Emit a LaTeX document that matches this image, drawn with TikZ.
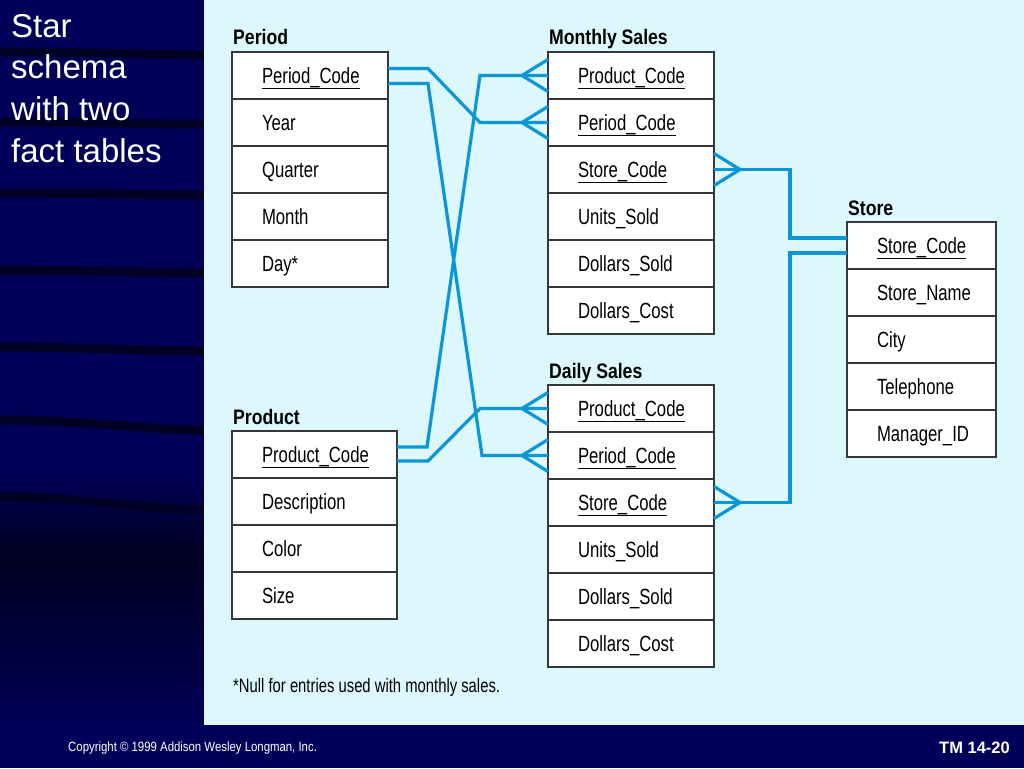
\documentclass[tikz,border=0pt]{standalone}
\usepackage{fontspec}
\setmainfont{Liberation Sans}
\newfontfamily\cellfont[FakeStretch=0.76]{Liberation Sans}
\newfontfamily\ttlfont[FakeStretch=0.84]{Liberation Sans}
\newfontfamily\footfont[FakeStretch=0.85]{Liberation Sans}
\definecolor{navy}{RGB}{0,0,88}
\definecolor{darknavy}{RGB}{0,0,32}
\definecolor{stripec}{RGB}{0,0,36}
\definecolor{panel}{RGB}{220,248,252}
\definecolor{conncol}{RGB}{10,150,215}
\definecolor{border}{RGB}{55,55,55}
\newcommand\pk[1]{\setbox0\hbox{#1}\rlap{\rule[-6pt]{\wd0}{1.4pt}}\box0}
\tikzset{
  cell/.style={draw=border, line width=1.6pt, fill=white, anchor=north west,
    inner sep=0pt, outer sep=0pt, minimum height=47pt, align=left,
    font=\cellfont\fontsize{22}{26}\selectfont, text height=20pt, text depth=4.2pt},
  outerb/.style={draw=border, line width=2.2pt},
  ttl/.style={anchor=base west, inner sep=0pt, font=\ttlfont\bfseries\fontsize{21}{25}\selectfont},
  conn/.style={draw=conncol, line width=3.2pt},
  stripe/.style={draw=stripec, line width=9pt}
}
\newcommand\erdtable[7]{%
  \node[ttl] (#1t) at (#2+1, #3-7) {#5};
  \foreach \t [count=\i] in {#6}
    \node[cell, text width=#4pt] (#1\i) at (#2, {#3+47*(\i-1)}) {\hspace*{30pt}\t};
  \draw[outerb] (#2,#3) rectangle ++(#4, 47*#7);
}
\newcommand\crowL[1]{\draw[conn] ([yshift=16pt]#1.west) -- ([xshift=-26pt]#1.west) -- ([yshift=-16pt]#1.west);}
\newcommand\crowR[1]{\draw[conn] ([yshift=16pt]#1.east) -- ([xshift=26pt]#1.east) -- ([yshift=-16pt]#1.east);}
\begin{document}
\begin{tikzpicture}[x=1pt, y=-1pt]
\useasboundingbox (0,0) rectangle (1024,768);
% background
\fill[navy] (0,0) rectangle (1024,768);
\shade[top color=navy, bottom color=darknavy] (0,470) rectangle (204,560);
\shade[top color=darknavy, bottom color=navy] (0,560) rectangle (204,725);
\foreach \ya/\yb in {52/55, 122/124, 193/195, 270/273, 347/351, 420/430, 497/510}
  \draw[stripe] (0,\ya) .. controls (80,\ya) and (150,\yb) .. (204,\yb);
\fill[panel] (204,0) rectangle (1024,725);
% title
\node[anchor=north west, inner sep=0pt, align=left, text=white,
  font=\fontsize{33}{41.7}\selectfont] (title) at (11,14) {Star\\schema\\with two\\fact tables};
% tables
\erdtable{per}{232}{52}{156}{Period}{\pk{Period\_Code},Year,Quarter,Month,Day*}{5}
\erdtable{pr}{232}{431}{165}{Product}{\pk{Product\_Code},Description,Color,Size}{4}
\erdtable{ms}{548}{52}{166}{Monthly Sales}{\pk{Product\_Code},\pk{Period\_Code},\pk{Store\_Code},Units\_Sold,Dollars\_Sold,Dollars\_Cost}{6}
\erdtable{ds}{548}{385}{166}{Daily Sales}{\pk{Product\_Code},\pk{Period\_Code},\pk{Store\_Code},Units\_Sold,Dollars\_Sold,Dollars\_Cost}{6}
\erdtable{st}{847}{222}{149}{Store}{\pk{Store\_Code},Store\_Name,City,Telephone,Manager\_ID}{5}
% connectors
\draw[conn] ([yshift=7pt]per1.east) -- ++(40pt,0pt) -- ([xshift=-68pt]ms2.west) -- (ms2.west);
\draw[conn] ([yshift=-8pt]per1.east) -- ++(40pt,0pt) -- ([xshift=-66pt]ds2.west) -- (ds2.west);
\draw[conn] ([yshift=7.5pt]pr1.east) -- ++(30pt,0pt) -- ([xshift=-68pt]ms1.west) -- (ms1.west);
\draw[conn] ([yshift=-6.5pt]pr1.east) -- ++(31pt,0pt) -- ([xshift=-68pt]ds1.west) -- (ds1.west);
\draw[conn] (ms3.east) -- ++(76pt,0pt) |- ([yshift=7.5pt]st1.west);
\draw[conn] (ds3.east) -- ++(76pt,0pt) |- ([yshift=-7.5pt]st1.west);
\crowL{ms1} \crowL{ms2} \crowL{ds1} \crowL{ds2}
\crowR{ms3} \crowR{ds3}
% footnote
\node[anchor=west, inner sep=0pt, font=\cellfont\fontsize{19.5}{23}\selectfont] (note) at (233,687) {*Null for entries used with monthly sales.};
% footer
\node[anchor=west, inner sep=0pt, text=white, font=\footfont\fontsize{13.4}{16}\selectfont] (copy) at (68,748) {Copyright © 1999 Addison Wesley Longman, Inc.};
\node[anchor=east, inner sep=0pt, text=white, font=\bfseries\fontsize{16.5}{19}\selectfont] (tm) at (1010,748) {TM 14-20};
\end{tikzpicture}
\end{document}
